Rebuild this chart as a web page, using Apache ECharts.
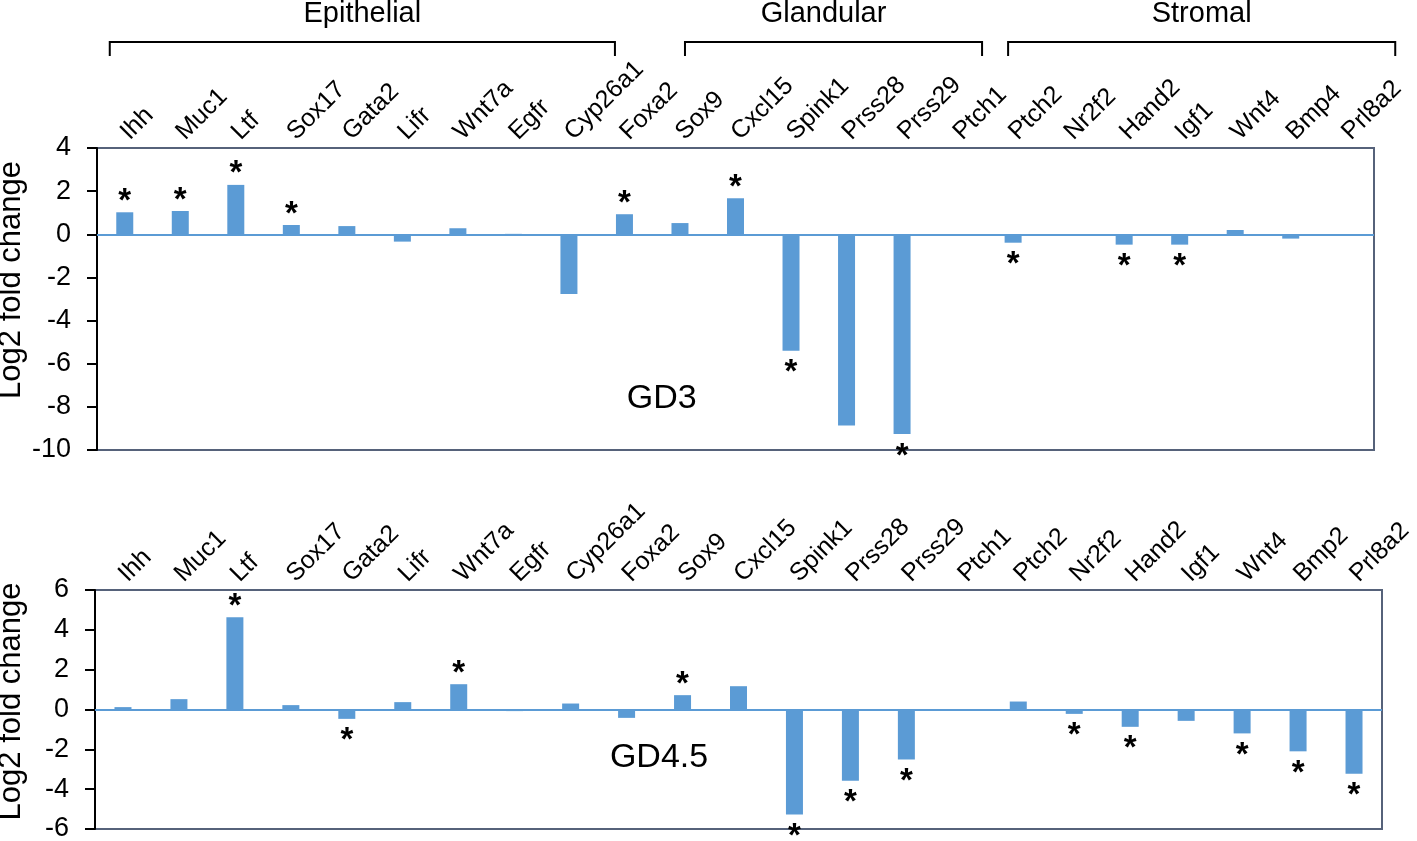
<!DOCTYPE html>
<html>
<head>
<meta charset="utf-8">
<script src="https://cdn.jsdelivr.net/npm/echarts@6/dist/echarts.min.js"></script>
<style>
  html, body { margin: 0; padding: 0; background: #fff; }
  #chart { width: 1417px; height: 841px; }
</style>
</head>
<body>
<div id="chart"></div>
<script>
// genes, top panel (GD3) and bottom panel (GD4.5)
const genesGD3 = ['Ihh', 'Muc1', 'Ltf', 'Sox17', 'Gata2', 'Lifr', 'Wnt7a', 'Egfr', 'Cyp26a1', 'Foxa2', 'Sox9', 'Cxcl15', 'Spink1', 'Prss28', 'Prss29', 'Ptch1', 'Ptch2', 'Nr2f2', 'Hand2', 'Igf1', 'Wnt4', 'Bmp4', 'Prl8a2']
const genesGD45 = ['Ihh', 'Muc1', 'Ltf', 'Sox17', 'Gata2', 'Lifr', 'Wnt7a', 'Egfr', 'Cyp26a1', 'Foxa2', 'Sox9', 'Cxcl15', 'Spink1', 'Prss28', 'Prss29', 'Ptch1', 'Ptch2', 'Nr2f2', 'Hand2', 'Igf1', 'Wnt4', 'Bmp2', 'Prl8a2']

// log2 fold change
const valuesGD3 = [1.02, 1.08, 2.29, 0.43, 0.38, -0.34, 0.28, 0.02, -2.77, 0.93, 0.52, 1.67, -5.40, -8.87, -9.26, 0.01, -0.39, 0.01, -0.48, -0.48, 0.20, -0.20, 0.01]
const valuesGD45 = [0.12, 0.52, 4.63, 0.22, -0.47, 0.37, 1.27, -0.08, 0.30, -0.42, 0.72, 1.17, -5.27, -3.58, -2.51, -0.05, 0.40, -0.22, -0.87, -0.57, -1.20, -2.10, -3.23]

// 1 = significant (asterisk)
const starsGD3 = [1, 1, 1, 1, 0, 0, 0, 0, 0, 1, 0, 1, 1, 0, 1, 0, 1, 0, 1, 1, 0, 0, 0]
const starsGD45 = [0, 0, 1, 0, 1, 0, 1, 0, 0, 0, 1, 0, 1, 1, 1, 0, 0, 1, 1, 0, 1, 1, 1]

const ticksGD3 = { min: -10, max: 4, interval: 2 }
const ticksGD45 = { min: -6, max: 6, interval: 2 }

// cell groups shown as brackets above the top panel: [name, first gene, last gene]
const groups = [
  ['Epithelial', 'Ihh', 'Cyp26a1'],
  ['Glandular', 'Sox9', 'Prss29'],
  ['Stromal', 'Ptch2', 'Prl8a2']
]
// bracket ends stick out past the bar centres (px, left / right)
const bracketPad = [[-15, 46], [5, 80], [-5, 49]]

const BAR_COLOR = '#5b9bd5'
const BORDER_COLOR = '#56627a'
const FONT = 'Liberation Sans, Arial, sans-serif'

const buildData = (values, stars) =>
  values.map((v, i) => ({
    value: v,
    label: {
      show: stars[i] === 1,
      position: v >= 0 ? 'top' : 'bottom'
    }
  }))

const xAxisFor = (genes, gridIndex) => ({
  type: 'category',
  gridIndex,
  position: 'top',
  data: genes,
  axisLine: { show: false },
  axisTick: { show: false },
  axisLabel: {
    interval: 0,
    rotate: 45,
    margin: 12,
    color: '#000',
    fontSize: 25,
    fontFamily: FONT
  }
})

const yAxisFor = (ticks, gridIndex, gap, lift) => ({
  type: 'value',
  gridIndex,
  min: ticks.min,
  max: ticks.max,
  interval: ticks.interval,
  name: 'Log2 fold change',
  nameLocation: 'middle',
  nameGap: gap,
  nameMoveOverlap: false,
  nameTextStyle: { color: '#000', fontSize: 31, fontFamily: FONT, padding: [0, 0, 0, lift] },
  axisLine: { show: true, lineStyle: { color: '#000', width: 2 } },
  axisTick: { show: true, inside: false, length: 10, lineStyle: { color: '#000', width: 2 } },
  axisLabel: { color: '#000', fontSize: 27, fontFamily: FONT, margin: 26 },
  splitLine: { show: false }
})

const barSeries = (values, stars, idx) => ({
  type: 'bar',
  xAxisIndex: idx,
  yAxisIndex: idx,
  barWidth: 17,
  data: buildData(values, stars),
  itemStyle: { color: BAR_COLOR },
  label: {
    formatter: '*',
    color: '#000',
    fontSize: 33,
    fontWeight: 'bold',
    fontFamily: FONT,
    distance: 0,
    offset: [0, 6]
  },
  markLine: {
    silent: true,
    symbol: 'none',
    label: { show: false },
    lineStyle: { color: BAR_COLOR, width: 2, type: 'solid' },
    data: [{ yAxis: 0 }]
  }
})

const chart = echarts.init(document.getElementById('chart'))

const option = {
  animation: false,
  backgroundColor: '#fff',
  grid: [
    { left: 97, right: 43, top: 148, height: 302, outerBoundsMode: 'none', show: true, borderColor: BORDER_COLOR, borderWidth: 2 },
    { left: 95, right: 35, top: 590, height: 239, outerBoundsMode: 'none', show: true, borderColor: BORDER_COLOR, borderWidth: 2 }
  ],
  xAxis: [xAxisFor(genesGD3, 0), xAxisFor(genesGD45, 1)],
  yAxis: [yAxisFor(ticksGD3, 0, 70, 38), yAxisFor(ticksGD45, 1, 68, 16)],
  series: [
    barSeries(valuesGD3, starsGD3, 0),
    barSeries(valuesGD45, starsGD45, 1)
  ]
}

chart.setOption(option)

// brackets and panel names, placed from the category positions
const graphics = []
groups.forEach(([name, first, last], i) => {
  const x1 = chart.convertToPixel({ xAxisIndex: 0 }, first) + bracketPad[i][0]
  const x2 = chart.convertToPixel({ xAxisIndex: 0 }, last) + bracketPad[i][1]
  graphics.push({
    type: 'polyline',
    shape: { points: [[x1, 56], [x1, 42], [x2, 42], [x2, 56]] },
    style: { stroke: '#000', lineWidth: 2, fill: null }
  })
  graphics.push({
    type: 'text',
    x: (x1 + x2) / 2 - (i === 1 ? 10 : 0),
    y: 14,
    style: { text: name, fill: '#000', font: '29px ' + FONT, textAlign: 'center', textVerticalAlign: 'middle' }
  })
})

// panel names sit between Foxa2 and Sox9
const panelName = (text, xIndex, t, yIndex, value) => {
  const a = chart.convertToPixel({ xAxisIndex: xIndex }, 'Foxa2')
  const b = chart.convertToPixel({ xAxisIndex: xIndex }, 'Sox9')
  const y = chart.convertToPixel({ yAxisIndex: yIndex }, value)
  return {
    type: 'text',
    x: a + (b - a) * t,
    y: y,
    style: { text: text, fill: '#000', font: '34px ' + FONT, textAlign: 'center', textVerticalAlign: 'middle' }
  }
}
graphics.push(panelName('GD3', 0, 0.67, 0, -7.6))
graphics.push(panelName('GD4.5', 1, 0.58, 1, -2.4))

chart.setOption({ graphic: graphics })

window.addEventListener('resize', () => chart.resize())
</script>
</body>
</html>
